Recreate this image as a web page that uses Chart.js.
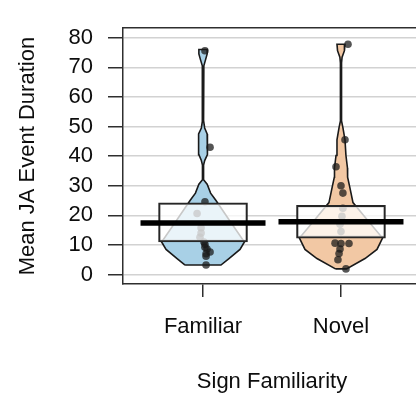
<!DOCTYPE html>
<html>
<head>
<meta charset="utf-8">
<script src="https://cdn.jsdelivr.net/npm/chart.js@4/dist/chart.umd.min.js"></script>
<style>
  html, body { margin: 0; padding: 0; background: #ffffff; overflow: hidden; }
  #wrap { width: 430px; height: 396px; }
</style>
</head>
<body>
<div id="wrap"><canvas id="chart" width="430" height="396"></canvas></div>
<script>
// Groups on the x axis
const categories = ['Familiar', 'Novel'];
const yTicks = [0, 10, 20, 30, 40, 50, 60, 70, 80];

// Raw observations (mean JA event duration) and their horizontal jitter
const familiarValues = [75.6, 43.0, 24.6, 20.6, 15.8, 14.0, 12.6, 11.0, 10.2, 9.2, 8.6, 7.6, 7.0, 6.2, 3.2];
const familiarJitter = [0.014, 0.051, 0.014, -0.043, -0.014, -0.014, -0.022, 0.007, 0.014, 0.014, 0.029, 0.051, 0.022, 0.022, 0.022];
const novelValues = [77.8, 45.5, 36.4, 30.0, 27.5, 22.4, 19.7, 17.0, 14.5, 10.6, 10.5, 10.5, 8.6, 7.1, 5.0, 1.9];
const novelJitter = [0.051, 0.029, -0.036, 0.0, 0.014, 0.014, 0.007, -0.007, 0.0, -0.043, 0.0, 0.058, -0.007, -0.014, -0.022, 0.036];

// Bean (density) profiles: levels on the y axis and half-widths in group units
const familiarLevels = [3.2, 5.4, 8.5, 11.0, 18.0, 25.0, 27.5, 30.5, 32.0, 37.0, 38.5, 40.5, 44.0, 47.5, 49.5, 52.0, 69.5, 70.5, 72.5, 74.5, 76.0];
const familiarDensity = [0.130, 0.188, 0.268, 0.300, 0.196, 0.094, 0.055, 0.030, 0.004, 0.004, 0.012, 0.030, 0.034, 0.030, 0.012, 0.004, 0.004, 0.006, 0.018, 0.030, 0.030];
const novelLevels = [1.9, 5.4, 8.5, 12.3, 18.0, 24.3, 29.7, 32.9, 36.0, 40.2, 45.5, 49.6, 51.9, 71.5, 73.4, 75.6, 77.8];
const novelDensity = [0.040, 0.174, 0.261, 0.301, 0.199, 0.087, 0.063, 0.048, 0.047, 0.036, 0.029, 0.014, 0.004, 0.004, 0.008, 0.025, 0.029];

// Group means and inference bands (lower, upper)
const means = [17.4, 17.8];
const bandLower = [11.0, 12.3];
const bandUpper = [24.25, 23.4];

const beanColors = ['#a8d0e6', '#f2c8a4'];
const FONT = { family: "'Liberation Sans', Arial, sans-serif", size: 22 };
const TEXT = '#0d0d0d';
const AXIS = '#2e2e2e';

// Closed outline of a bean: up the left side, down the right side
function beanOutline(center, levels, density) {
  const pts = [];
  for (let i = 0; i < levels.length; i++) pts.push({ x: center - density[i], y: levels[i] });
  for (let i = levels.length - 1; i >= 0; i--) pts.push({ x: center + density[i], y: levels[i] });
  pts.push({ x: center - density[0], y: levels[0] });
  return pts;
}

const beans = [
  beanOutline(1, familiarLevels, familiarDensity),
  beanOutline(2, novelLevels, novelDensity)
];

const groups = [
  { values: familiarValues, jitter: familiarJitter },
  { values: novelValues, jitter: novelJitter }
];

const datasets = [];

beans.forEach((pts, i) => {
  datasets.push({
    type: 'line',
    data: pts,
    order: 3,
    fill: 'shape',
    backgroundColor: beanColors[i],
    borderColor: '#1a1a1a',
    borderWidth: 1.6,
    pointRadius: 0,
    tension: 0
  });
});

groups.forEach((g, i) => {
  datasets.push({
    type: 'scatter',
    data: g.values.map((v, k) => ({ x: i + 1 + g.jitter[k], y: v })),
    order: 2,
    pointRadius: 3.8,
    pointBorderWidth: 0,
    pointBackgroundColor: 'rgba(25,25,25,0.74)',
    showLine: false
  });
});

datasets.push({
  type: 'bar',
  data: categories.map((c, i) => ({ x: i + 1, y: [bandLower[i], bandUpper[i]] })),
  order: 1,
  barThickness: 89,
  backgroundColor: 'rgba(255,255,255,0.76)',
  borderColor: '#262626',
  borderWidth: 2,
  borderSkipped: false
});

means.forEach((m, i) => {
  datasets.push({
    type: 'line',
    data: [{ x: i + 1 - 0.453, y: m }, { x: i + 1 + 0.453, y: m }],
    order: 0,
    borderColor: '#000000',
    borderWidth: 5.5,
    borderCapStyle: 'butt',
    pointRadius: 0,
    fill: false
  });
});

new Chart(document.getElementById('chart'), {
  type: 'scatter',
  data: { datasets },
  options: {
    responsive: false,
    animation: false,
    devicePixelRatio: 1,
    layout: { padding: { left: 0, right: 9, top: 11, bottom: 0 } },
    plugins: { legend: { display: false }, tooltip: { enabled: false } },
    scales: {
      x: {
        type: 'linear',
        min: 0.42,
        max: 2.58,
        offset: false,
        afterBuildTicks: s => { s.ticks = categories.map((c, i) => ({ value: i + 1 })); },
        afterFit: s => { s.height = 112; },
        grid: { drawOnChartArea: false, offset: false, tickLength: 13, tickColor: AXIS, tickWidth: 1.5, lineWidth: 1.5 },
        border: { display: true, color: AXIS, width: 1.5 },
        ticks: {
          autoSkip: false, maxRotation: 0, padding: 17, font: FONT, color: TEXT,
          callback: v => categories[Math.round(v) - 1]
        },
        title: { display: true, text: 'Sign Familiarity', font: FONT, color: TEXT, padding: { top: 0, bottom: 1 } }
      },
      xTop: {
        type: 'linear',
        position: 'top',
        min: 0.42,
        max: 2.58,
        afterFit: s => { s.height = 0; },
        grid: { display: false },
        ticks: { display: false },
        border: { display: true, color: AXIS, width: 1.5 }
      },
      y: {
        type: 'linear',
        min: -3.2,
        max: 83.2,
        afterBuildTicks: s => { s.ticks = yTicks.map(v => ({ value: v })); },
        afterFit: s => { s.width = 123; },
        grid: { color: '#d2d2d2', lineWidth: 1.5, tickColor: AXIS, tickWidth: 1.5, tickLength: 15 },
        border: { display: true, color: AXIS, width: 1.5 },
        ticks: { padding: 15, font: FONT, color: TEXT },
        title: { display: true, text: 'Mean JA Event Duration', font: FONT, color: TEXT, padding: { top: 15, bottom: 0 } }
      }
    }
  }
});
</script>
</body>
</html>
